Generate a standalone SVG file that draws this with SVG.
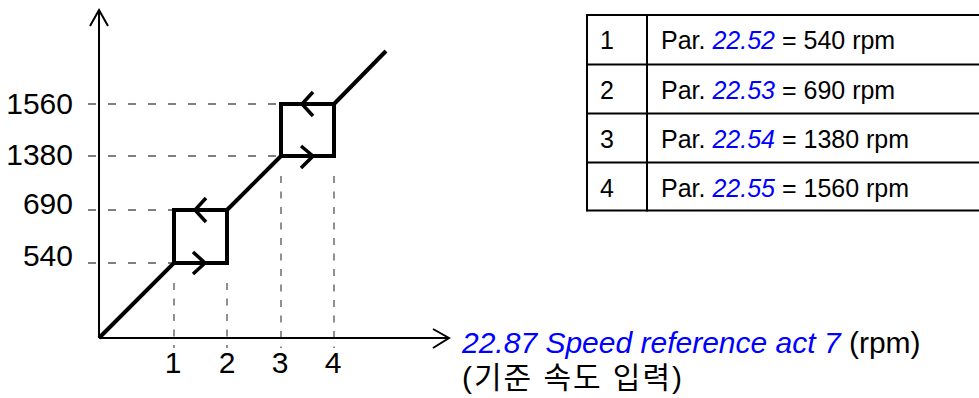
<svg xmlns="http://www.w3.org/2000/svg" width="979" height="398" viewBox="0 0 979 398">
<style>
text{font-family:"Liberation Sans","Noto Sans CJK KR",Arial,sans-serif;fill:#000}
.lbl{font-size:30px}
.tbl{font-size:25px}
.blue{fill:#0000ff;font-style:italic}
.axis{stroke:#000;stroke-width:2;fill:none}
.dh{stroke:#555;stroke-width:1.3;stroke-dasharray:8 12;fill:none}
.dv{stroke:#555;stroke-width:1.3;stroke-dasharray:7 8.5;fill:none}
.curve{stroke:#000;stroke-width:4;fill:none;stroke-linejoin:miter}
.chev{stroke:#000;stroke-width:3.5;fill:none}
.grid{stroke:#000;stroke-width:2;fill:none}
</style>
<rect width="979" height="398" fill="#fff"/>
<g id="guides">
<line class="dh" x1="88" y1="104" x2="281" y2="104"/>
<line class="dh" x1="88" y1="156" x2="281" y2="156"/>
<line class="dh" x1="88" y1="210" x2="174" y2="210"/>
<line class="dh" x1="88" y1="263" x2="174" y2="263"/>
<line class="dv" x1="174" y1="283" x2="174" y2="348"/>
<line class="dv" x1="227" y1="283" x2="227" y2="348"/>
<line class="dv" x1="281" y1="176" x2="281" y2="348"/>
<line class="dv" x1="334" y1="176" x2="334" y2="348"/>
</g>
<g id="axes">
<line class="axis" x1="99" y1="338" x2="99" y2="10"/>
<polyline class="axis" points="90,26 99,10 108,26"/>
<line class="axis" x1="99" y1="338" x2="449" y2="338"/>
<polyline class="axis" points="433,329 449,338 433,348"/>
</g>
<g id="connectors">
<polyline class="curve" points="99,338 174,263 174,210 227,210 227,263 174,263"/>
<line class="curve" x1="227" y1="210" x2="281" y2="156"/>
<polyline class="curve" points="281,156 281,104 334,104 334,156 281,156"/>
<line class="curve" x1="334" y1="104" x2="386" y2="51"/>
<polyline class="chev" points="193,252 205,263 193,274"/>
<polyline class="chev" points="206,198 195,210 206,222"/>
<polyline class="chev" points="301,146 313,156 301,168"/>
<polyline class="chev" points="313,92 302,104 313,116"/>
</g>
<g id="y-labels" class="lbl" text-anchor="end">
<text x="73" y="114">1560</text>
<text x="73" y="165">1380</text>
<text x="73" y="214">690</text>
<text x="73" y="266">540</text>
</g>
<g id="x-labels" class="lbl" text-anchor="middle">
<text x="173" y="373">1</text>
<text x="227" y="373">2</text>
<text x="280" y="373">3</text>
<text x="333" y="373">4</text>
</g>
<g id="x-title" class="lbl">
<text x="462" y="353"><tspan class="blue">22.87 Speed reference act 7</tspan> (rpm)</text>
<text x="462" y="388" textLength="220" lengthAdjust="spacing">(기준 속도 입력)</text>
</g>
<g id="table">
<line class="grid" x1="587" y1="15" x2="979" y2="15"/>
<line class="grid" x1="587" y1="64.5" x2="979" y2="64.5"/>
<line class="grid" x1="587" y1="113.5" x2="979" y2="113.5"/>
<line class="grid" x1="587" y1="162.5" x2="979" y2="162.5"/>
<line class="grid" x1="587" y1="210.5" x2="979" y2="210.5"/>
<line class="grid" x1="587" y1="14" x2="587" y2="211.5"/>
<line class="grid" x1="647" y1="14" x2="647" y2="211.5"/>
<g class="tbl">
<text x="600" y="49">1</text>
<text x="600" y="99">2</text>
<text x="600" y="148">3</text>
<text x="600" y="197">4</text>
<text x="661" y="49">Par. <tspan class="blue">22.52</tspan> = 540 rpm</text>
<text x="661" y="99">Par. <tspan class="blue">22.53</tspan> = 690 rpm</text>
<text x="661" y="148">Par. <tspan class="blue">22.54</tspan> = 1380 rpm</text>
<text x="661" y="197">Par. <tspan class="blue">22.55</tspan> = 1560 rpm</text>
</g>
</g>
</svg>
